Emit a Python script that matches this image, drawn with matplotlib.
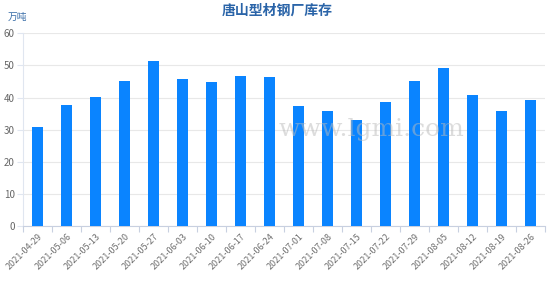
import matplotlib
matplotlib.use("Agg")
import matplotlib.pyplot as plt
import numpy as np

plt.rcParams['font.family'] = ['Noto Sans CJK SC', 'DejaVu Sans']

dates = ["2021-04-29", "2021-05-06", "2021-05-13", "2021-05-20", "2021-05-27",
         "2021-06-03", "2021-06-10", "2021-06-17", "2021-06-24", "2021-07-01",
         "2021-07-08", "2021-07-15", "2021-07-22", "2021-07-29", "2021-08-05",
         "2021-08-12", "2021-08-19", "2021-08-26"]
values = [30.7, 37.6, 40.3, 45.1, 51.5, 45.8, 44.7, 46.6, 46.3, 37.5,
          35.8, 33.1, 38.7, 45.2, 49.2, 40.7, 35.8, 39.1]
yticks = [0, 10, 20, 30, 40, 50, 60]
title = "唐山型材钢厂库存"
unit = "万吨"

fig = plt.figure(figsize=(5.54, 2.81), dpi=100)
ax = fig.add_axes([23/554, 1-226/281, (545-23)/554, (226-33.3)/281])

x = np.arange(len(dates))
ax.bar(x, values, width=0.38, color="#0a84ff", zorder=3)
ax.set_xlim(-0.5, len(dates)-0.5)
ax.set_ylim(0, 60)
ax.set_yticks(yticks)
ax.set_yticklabels([str(v) for v in yticks], fontsize=7, color="#666666")
ax.tick_params(axis='y', length=4, color="#e0e6f0", pad=2)
ax.grid(axis='y', color="#e8e8e8", linewidth=0.8, zorder=0)

ax.set_xticks(np.arange(-0.5, len(dates)), minor=False)
ax.set_xticklabels([])
ax.tick_params(axis='x', length=4, color="#c8d0e0")
ax.set_xticks(x, minor=True)
ax.set_xticklabels(dates, minor=True, rotation=45, ha='right', rotation_mode='anchor',
                   fontsize=6.5, color="#707070")
ax.tick_params(axis='x', which='minor', length=0, pad=4)

for s in ['top', 'right']:
    ax.spines[s].set_visible(False)
ax.spines['left'].set_color("#e0e6f0")
ax.spines['bottom'].set_color("#c8d0e0")

fig.text(0.5, 1-11/281, title, ha='center', va='center', fontsize=10,
         fontweight='bold', color="#2a64a8")
fig.text(8/554, 1-17/281, unit, ha='left', va='center', fontsize=7, color="#3a6ea8")

ax.text(0.49, 0.50, "www.lgmi.com", transform=ax.transAxes, ha='left', va='center',
        fontsize=18, color="#bbbbbb", alpha=0.5, family='DejaVu Serif', zorder=4)

fig.savefig("out.png", dpi=100)
